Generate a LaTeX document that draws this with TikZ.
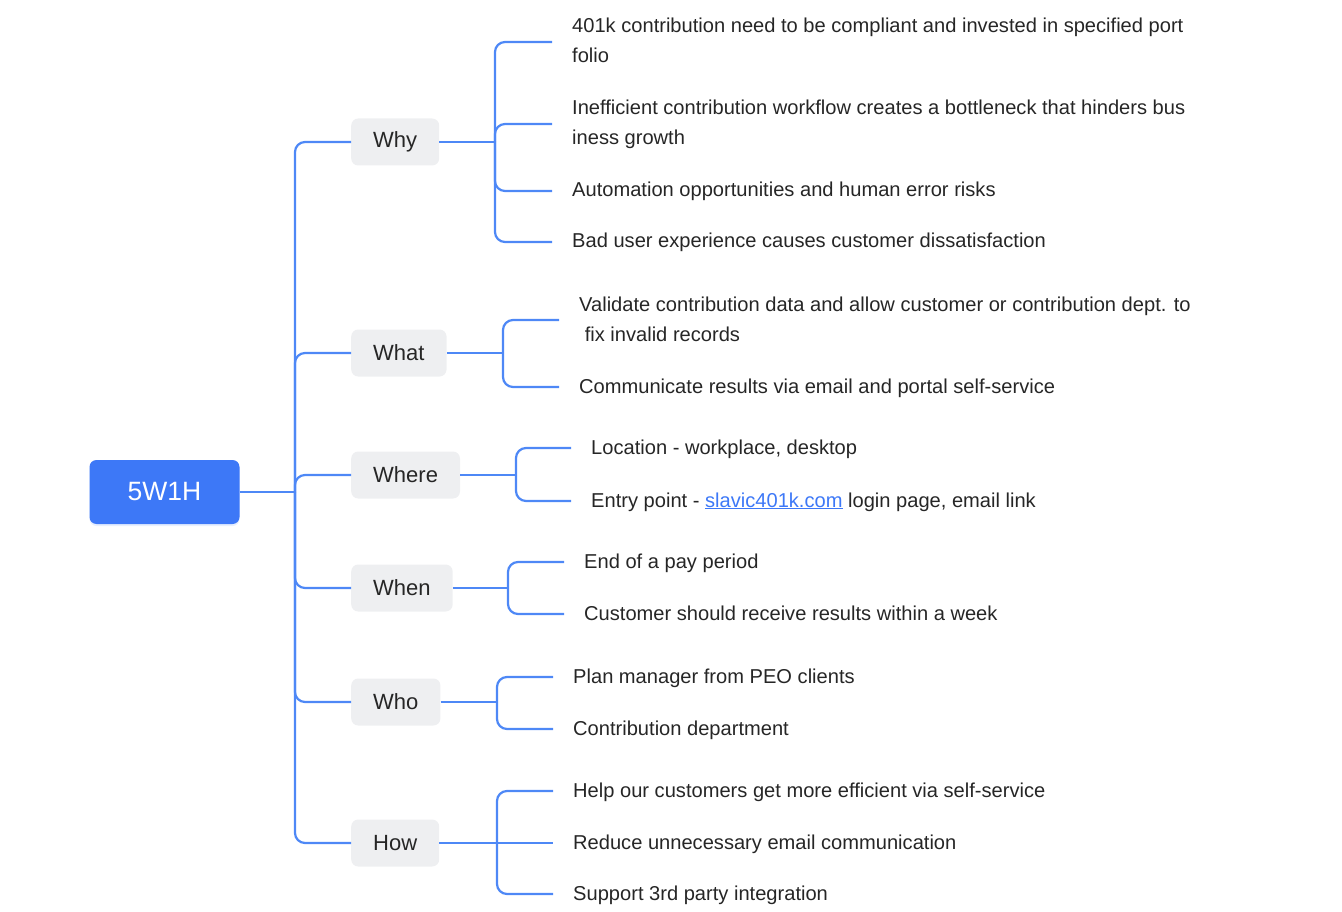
\documentclass[tikz,border=0pt]{standalone}
\usepackage{fontspec}
\setmainfont{Liberation Sans}
\usetikzlibrary{shadows}
\definecolor{linkblue}{HTML}{4E88F6}
\definecolor{rootblue}{HTML}{3D78F7}
\definecolor{boxgray}{HTML}{EEEFF1}
\definecolor{txt}{HTML}{262626}
\newcommand{\lf}[1]{\begin{tabular}{@{}l@{}}#1\end{tabular}}
\begin{document}
\begin{tikzpicture}[x=1pt,y=-1pt,
  conn/.style={draw=linkblue,line width=2.2pt,rounded corners=10pt},
  rootbox/.style={fill=rootblue,rounded corners=7pt,minimum width=150pt,minimum height=64pt,text=white,font=\fontsize{26.5}{30}\selectfont,drop shadow={shadow xshift=0pt,shadow yshift=-2pt,opacity=0.12,fill=rootblue}},
  branch/.style={fill=boxgray,rounded corners=7pt,minimum height=47pt,inner xsep=22pt,anchor=west,text=txt,font=\fontsize{22}{26}\selectfont},
  leaf/.style={anchor=west,inner xsep=20pt,inner ysep=0pt,text=txt,font=\fontsize{20.1}{30}\selectfont}]
\useasboundingbox (0,0) rectangle (1342,912);

% root
\node[rootbox] (root) at (164.5,492) {5W1H};

% branches
\node[branch] (why) at (351,142) {Why};
\node[branch] (what) at (351,353) {What};
\node[branch] (where) at (351,475) {Where};
\node[branch] (when) at (351,588) {When};
\node[branch] (who) at (351,702) {Who};
\node[branch] (how) at (351,843) {How};

% junctions
\coordinate (rj) at (295,492);
\coordinate (whyj) at (495,142);
\coordinate (whatj) at (503,353);
\coordinate (wherej) at (516,475);
\coordinate (whenj) at (508,588);
\coordinate (whoj) at (497,702);
\coordinate (howj) at (497,843);

% leaves
\node[leaf] (w1) at (552,42) {\lf{401k contribution need to be compliant and invested in specified port\\folio}};
\node[leaf] (w2) at (552,124) {\lf{Inefficient contribution workflow creates a bottleneck that hinders bus\\iness growth}};
\node[leaf] (w3) at (552,191) {\lf{Automation opportunities and human error risks}};
\node[leaf] (w4) at (552,242) {\lf{Bad user experience causes customer dissatisfaction}};

\node[leaf] (a1) at (559,320) {\lf{Validate contribution data and allow customer or contribution dept. to\\\ fix invalid records}};
\node[leaf] (a2) at (559,387) {\lf{Communicate results via email and portal self-service}};

\node[leaf] (e1) at (571,448) {\lf{Location - workplace, desktop}};
\node[leaf] (e2) at (571,501) {\lf{Entry point - {\color{rootblue}\underline{slavic401k.com}} login page, email link}};

\node[leaf] (n1) at (564,562) {\lf{End of a pay period}};
\node[leaf] (n2) at (564,614) {\lf{Customer should receive results within a week}};

\node[leaf] (o1) at (553,677) {\lf{Plan manager from PEO clients}};
\node[leaf] (o2) at (553,729) {\lf{Contribution department}};

\node[leaf] (h1) at (553,791) {\lf{Help our customers get more efficient via self-service}};
\node[leaf] (h2) at (553,843) {\lf{Reduce unnecessary email communication}};
\node[leaf] (h3) at (553,894) {\lf{Support 3rd party integration}};

% root connectors
\draw[conn] (root.east) -- (rj);
\foreach \b in {why,what,where,when,who,how}
  \draw[conn] (rj) |- (\b.west);

% branch connectors
\draw[conn] (why.east) -- (whyj);
\foreach \l in {w1,w2,w3,w4} \draw[conn] (whyj) |- (\l.west);
\draw[conn] (what.east) -- (whatj);
\foreach \l in {a1,a2} \draw[conn] (whatj) |- (\l.west);
\draw[conn] (where.east) -- (wherej);
\foreach \l in {e1,e2} \draw[conn] (wherej) |- (\l.west);
\draw[conn] (when.east) -- (whenj);
\foreach \l in {n1,n2} \draw[conn] (whenj) |- (\l.west);
\draw[conn] (who.east) -- (whoj);
\foreach \l in {o1,o2} \draw[conn] (whoj) |- (\l.west);
\draw[conn] (how.east) -- (howj);
\foreach \l in {h1,h3} \draw[conn] (howj) |- (\l.west);
\draw[conn] (howj) -- (h2.west);
\end{tikzpicture}
\end{document}
